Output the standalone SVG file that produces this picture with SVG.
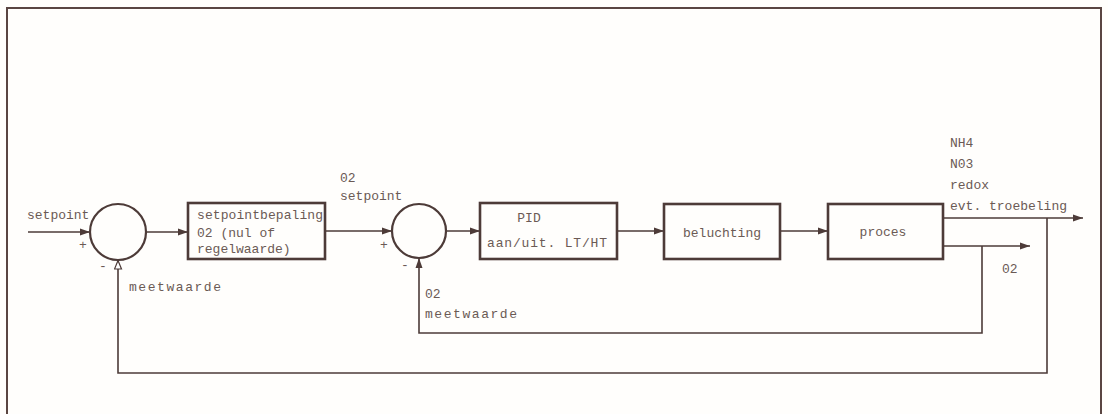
<svg xmlns="http://www.w3.org/2000/svg" width="1108" height="414" viewBox="0 0 1108 414">
  <defs>
    <style>
      .frame { fill: none; stroke: #5a4542; stroke-width: 2; }
      .box { fill: #fffefc; stroke: #4d3b38; stroke-width: 2.6; }
      .sum { fill: #fffefc; stroke: #4d3b38; stroke-width: 2.2; }
      .line { fill: none; stroke: #4d3b38; stroke-width: 1.6; }
      .lbl { font-family: "Liberation Mono", "Courier New", monospace; font-size: 13px; fill: #6b5a55; }
    </style>
    <marker id="arr" markerUnits="userSpaceOnUse" markerWidth="11" markerHeight="8" refX="10" refY="4" orient="auto">
      <path d="M0,0.5 L10,4 L0,7.5 z" fill="#4d3b38"/>
    </marker>
    <marker id="arrOpen" markerUnits="userSpaceOnUse" markerWidth="11" markerHeight="9" refX="10" refY="4.5" orient="auto">
      <path d="M1,1 L9.5,4.5 L1,8 z" fill="#ffffff" stroke="#4d3b38" stroke-width="1.2"/>
    </marker>
  </defs>
  <rect x="0" y="0" width="1108" height="414" fill="#fffefc"/>
  <path class="frame" d="M7,414 V8 H1101 V414"/>

  <g id="connectors">
    <path class="line" d="M28,232 H90" marker-end="url(#arr)"/>
    <path class="line" d="M146,232 H188" marker-end="url(#arr)"/>
    <path class="line" d="M325,231 H392" marker-end="url(#arr)"/>
    <path class="line" d="M446,231 H480" marker-end="url(#arr)"/>
    <path class="line" d="M617,231 H664" marker-end="url(#arr)"/>
    <path class="line" d="M780,231 H828" marker-end="url(#arr)"/>
    <path class="line" d="M943,218 H1083" marker-end="url(#arr)"/>
    <path class="line" d="M943,246 H1030" marker-end="url(#arr)"/>
    <path class="line" d="M982,246 V333 H419 V258" marker-end="url(#arr)"/>
    <path class="line" d="M1047,218 V373 H118 V260" marker-end="url(#arrOpen)"/>
  </g>

  <g id="sum1">
    <circle class="sum" cx="118" cy="232" r="28"/>
    <text class="lbl" x="79" y="249">+</text>
    <text class="lbl" x="99" y="270">-</text>
  </g>
  <g id="setpointbepaling">
    <rect class="box" x="188" y="203" width="137" height="56"/>
    <text class="lbl" x="197" y="219" textLength="126">setpointbepaling</text>
    <text class="lbl" x="197" y="237">02 (nul of</text>
    <text class="lbl" x="197" y="253">regelwaarde)</text>
  </g>
  <g id="sum2">
    <circle class="sum" cx="419" cy="231" r="27"/>
    <text class="lbl" x="380" y="249">+</text>
    <text class="lbl" x="401" y="269">-</text>
  </g>
  <g id="pid">
    <rect class="box" x="480" y="203" width="137" height="56"/>
    <text class="lbl" x="529" y="222" text-anchor="middle">PID</text>
    <text class="lbl" x="487" y="247" textLength="120">aan/uit. LT/HT</text>
  </g>
  <g id="beluchting">
    <rect class="box" x="664" y="204" width="116" height="55"/>
    <text class="lbl" x="722" y="237" text-anchor="middle">beluchting</text>
  </g>
  <g id="proces">
    <rect class="box" x="828" y="204" width="115" height="55"/>
    <text class="lbl" x="883" y="236" text-anchor="middle">proces</text>
  </g>

  <g id="labels">
    <text class="lbl" x="27" y="219">setpoint</text>
    <text class="lbl" x="129" y="291" textLength="92">meetwaarde</text>
    <text class="lbl" x="340" y="182">02</text>
    <text class="lbl" x="340" y="200">setpoint</text>
    <text class="lbl" x="425" y="298">02</text>
    <text class="lbl" x="425" y="318" textLength="92">meetwaarde</text>
    <text class="lbl" x="950" y="147">NH4</text>
    <text class="lbl" x="950" y="168">N03</text>
    <text class="lbl" x="950" y="189">redox</text>
    <text class="lbl" x="950" y="210" textLength="117">evt. troebeling</text>
    <text class="lbl" x="1002" y="273">02</text>
  </g>
</svg>
